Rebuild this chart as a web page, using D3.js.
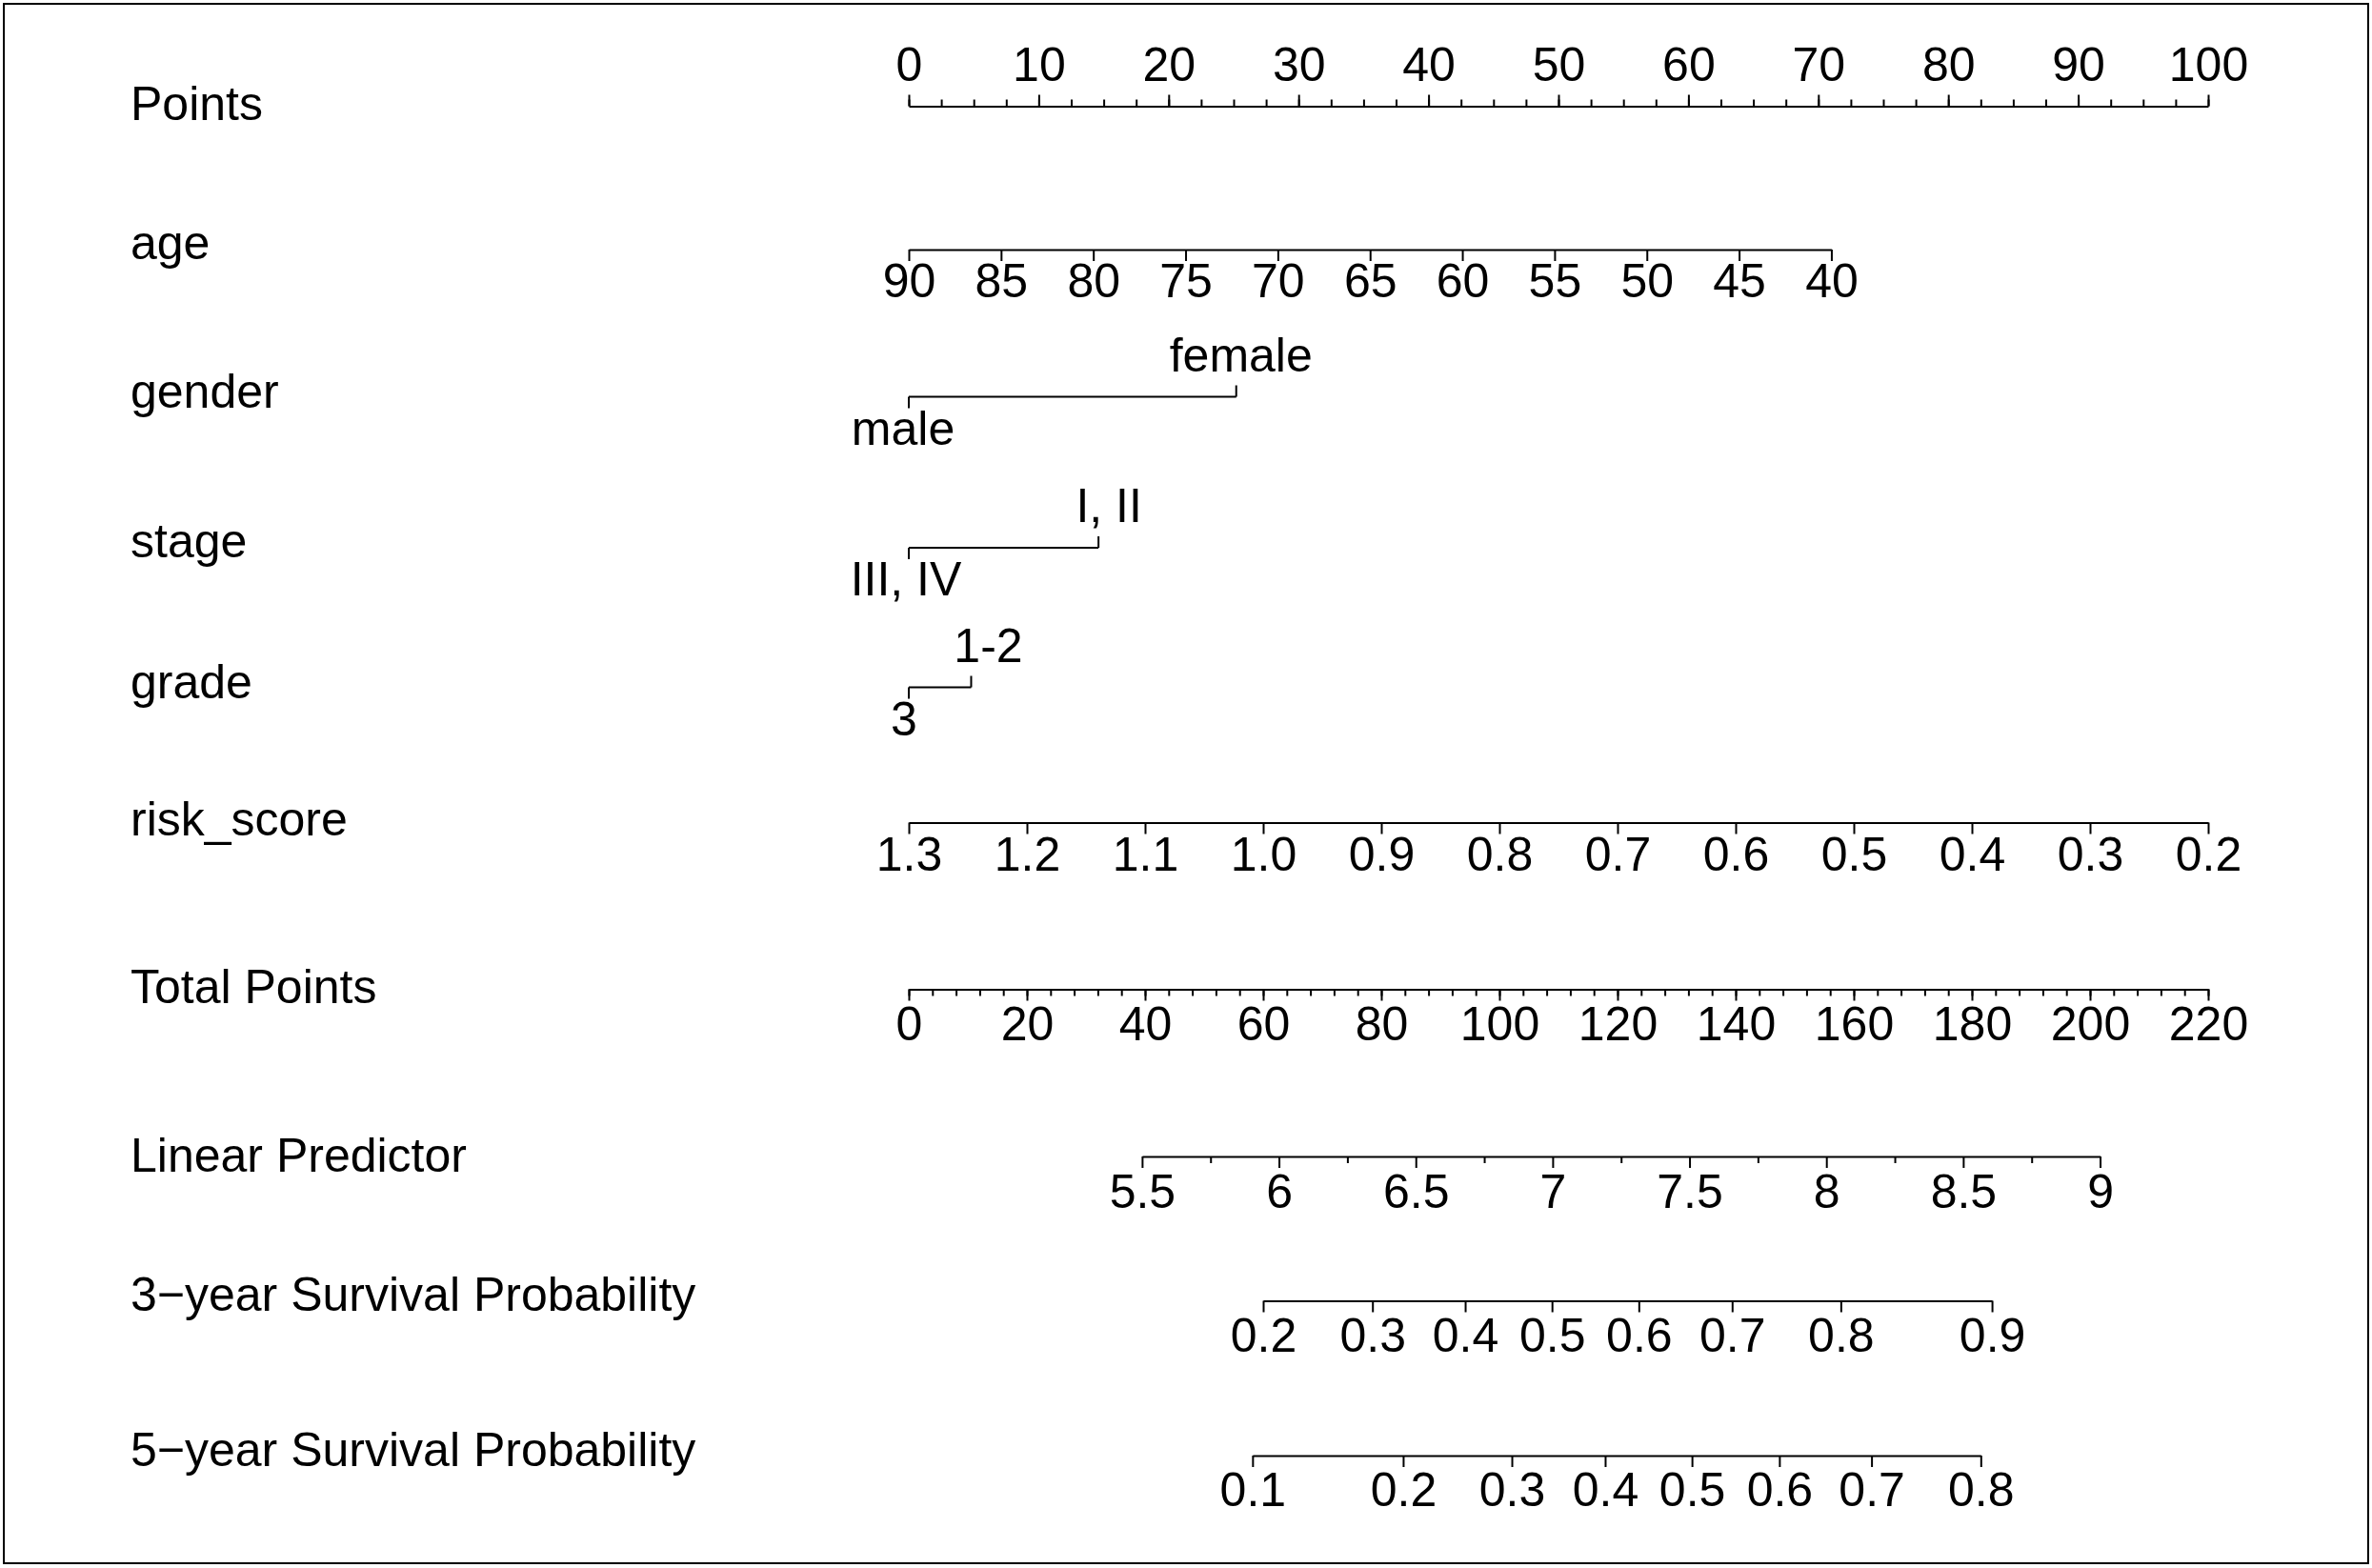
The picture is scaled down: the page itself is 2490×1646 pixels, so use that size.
<!DOCTYPE html>
<html>
<head>
<meta charset="utf-8">
<script src="https://cdn.jsdelivr.net/npm/d3@7"></script>
<style>
body { margin: 0; background: #fff; }
svg text { font-family: "Liberation Sans", Arial, Helvetica, sans-serif; }
</style>
</head>
<body>
<svg id="chart" width="2490" height="1646"></svg>
<script>
"use strict";
// values; every row is expressed in the 0-100 "Points" unit
var pointsTicks = [0, 10, 20, 30, 40, 50, 60, 70, 80, 90, 100];
var ageTicks = [90, 85, 80, 75, 70, 65, 60, 55, 50, 45, 40];
var ageDomain = [90, 40];
var agePoints = [0, 71];
var genderLevels = ["male", "female"];
var genderPoints = [0, 25.2];
var stageLevels = ["III, IV", "I, II"];
var stagePoints = [0, 14.6];
var gradeLevels = ["3", "1-2"];
var gradePoints = [0, 4.8];
var riskTicks = [1.3, 1.2, 1.1, 1.0, 0.9, 0.8, 0.7, 0.6, 0.5, 0.4, 0.3, 0.2];
var riskDomain = [1.3, 0.2];
var riskPoints = [0, 100];
// bottom rows are in "Total Points"
var totalTicks = [0, 20, 40, 60, 80, 100, 120, 140, 160, 180, 200, 220];
var lpTicks = [5.5, 6, 6.5, 7, 7.5, 8, 8.5, 9];
var lpDomain = [5.5, 9];
var lpTotal = [39.5, 201.7];
var surv3Ticks = [0.2, 0.3, 0.4, 0.5, 0.6, 0.7, 0.8, 0.9];
var surv3Total = [60.0, 78.5, 94.2, 108.9, 123.6, 139.4, 157.8, 183.4];
var surv5Ticks = [0.1, 0.2, 0.3, 0.4, 0.5, 0.6, 0.7, 0.8];
var surv5Total = [58.2, 83.7, 102.1, 117.9, 132.6, 147.4, 163.0, 181.5];

var FONT = 50;
var svg = d3.select("#chart");

svg.append("rect")
    .attr("x", 0).attr("y", 0).attr("width", 2490).attr("height", 1646)
    .attr("fill", "#fff");
svg.append("rect")
    .attr("x", 4).attr("y", 4).attr("width", 2482).attr("height", 1637)
    .attr("fill", "none").attr("stroke", "#000").attr("stroke-width", 2);

var xPts = d3.scaleLinear().domain([0, 100]).range([954, 2318]);
var xTot = d3.scaleLinear().domain([0, 220]).range([954, 2318]);

var rows = [
    { name: "Points", y: 111.5, ly: 126 },
    { name: "age", y: 262, ly: 272 },
    { name: "gender", y: 416.5, ly: 428 },
    { name: "stage", y: 575, ly: 585 },
    { name: "grade", y: 721.5, ly: 733 },
    { name: "risk_score", y: 863.5, ly: 877 },
    { name: "Total Points", y: 1038.5, ly: 1053 },
    { name: "Linear Predictor", y: 1214, ly: 1230 },
    { name: "3\u2212year Survival Probability", y: 1365.5, ly: 1376 },
    { name: "5\u2212year Survival Probability", y: 1528, ly: 1539 }
];

svg.selectAll("text.rowlabel")
    .data(rows)
    .enter().append("text")
    .attr("class", "rowlabel")
    .attr("x", 137)
    .attr("y", function (d) { return d.ly; })
    .attr("font-size", FONT)
    .attr("fill", "#000")
    .text(function (d) { return d.name; });

function styleAxis(g) {
    g.attr("color", "#000");
    g.selectAll("path, line").attr("stroke-width", 2);
    g.selectAll("text").attr("font-size", FONT).attr("font-family", null).attr("fill", "#000");
}

// continuous row: minor ticks (unlabelled) + major ticks with labels
function drawAxis(y, scale, major, minor, top, fmt, pad) {
    var make = top ? d3.axisTop : d3.axisBottom;
    if (minor) {
        var gm = svg.append("g").attr("transform", "translate(0," + y + ")");
        gm.call(make(scale).tickValues(minor).tickSize(7).tickSizeOuter(0).tickFormat(""));
        gm.select(".domain").remove();
        styleAxis(gm);
    }
    var g = svg.append("g").attr("transform", "translate(0," + y + ")");
    g.call(make(scale).tickValues(major).tickSize(12).tickSizeOuter(0)
        .tickPadding(pad).tickFormat(fmt));
    g.attr("font-family", null).attr("font-size", null);
    styleAxis(g);
}

// categorical row: upper level ticks up with label above, lower level ticks down
function drawFactor(y, levels, pts, nudge) {
    var g = svg.append("g");
    g.append("line")
        .attr("x1", xPts(d3.min(pts))).attr("x2", xPts(d3.max(pts)))
        .attr("y1", y).attr("y2", y)
        .attr("stroke", "#000").attr("stroke-width", 2);
    var items = levels.map(function (l, i) { return { label: l, p: pts[i], up: i > 0, dx: nudge[i] }; });
    g.selectAll("line.tick").data(items).enter().append("line")
        .attr("class", "tick")
        .attr("x1", function (d) { return xPts(d.p); })
        .attr("x2", function (d) { return xPts(d.p); })
        .attr("y1", y)
        .attr("y2", function (d) { return d.up ? y - 12 : y + 12; })
        .attr("stroke", "#000").attr("stroke-width", 2);
    g.selectAll("text").data(items).enter().append("text")
        .attr("x", function (d) { return xPts(d.p) + d.dx; })
        .attr("y", function (d) { return d.up ? y - 27 : y + 50; })
        .attr("text-anchor", "middle")
        .attr("font-size", FONT)
        .attr("fill", "#000")
        .text(function (d) { return d.label; });
}

var plain = function (d) { return String(d); };

// Points
drawAxis(rows[0].y, xPts, pointsTicks, d3.range(0, 100.01, 2.5), true, plain, 15);

// age
var ageScale = d3.scaleLinear().domain(ageDomain).range(agePoints.map(xPts));
drawAxis(rows[1].y, ageScale, ageTicks, null, false, plain, 2);

drawFactor(rows[2].y, genderLevels, genderPoints, [-6, 5]);
drawFactor(rows[3].y, stageLevels, stagePoints, [-3, 11]);
drawFactor(rows[4].y, gradeLevels, gradePoints, [-5, 18]);

// risk_score
var riskScale = d3.scaleLinear().domain(riskDomain).range(riskPoints.map(xPts));
drawAxis(rows[5].y, riskScale, riskTicks, null, false, d3.format(".1f"), 3);

// Total Points
drawAxis(rows[6].y, xTot, totalTicks, d3.range(0, 220.01, 4), false, plain, 6);

// Linear Predictor
var lpScale = d3.scaleLinear().domain(lpDomain).range(lpTotal.map(xTot));
drawAxis(rows[7].y, lpScale, lpTicks, d3.range(5.75, 9, 0.5), false, plain, 6);

// survival probabilities (non-linear in total points, piecewise scale)
var s3Scale = d3.scaleLinear().domain(surv3Ticks).range(surv3Total.map(xTot));
drawAxis(rows[8].y, s3Scale, surv3Ticks, null, false, plain, 6);
var s5Scale = d3.scaleLinear().domain(surv5Ticks).range(surv5Total.map(xTot));
drawAxis(rows[9].y, s5Scale, surv5Ticks, null, false, plain, 5);
</script>
</body>
</html>
